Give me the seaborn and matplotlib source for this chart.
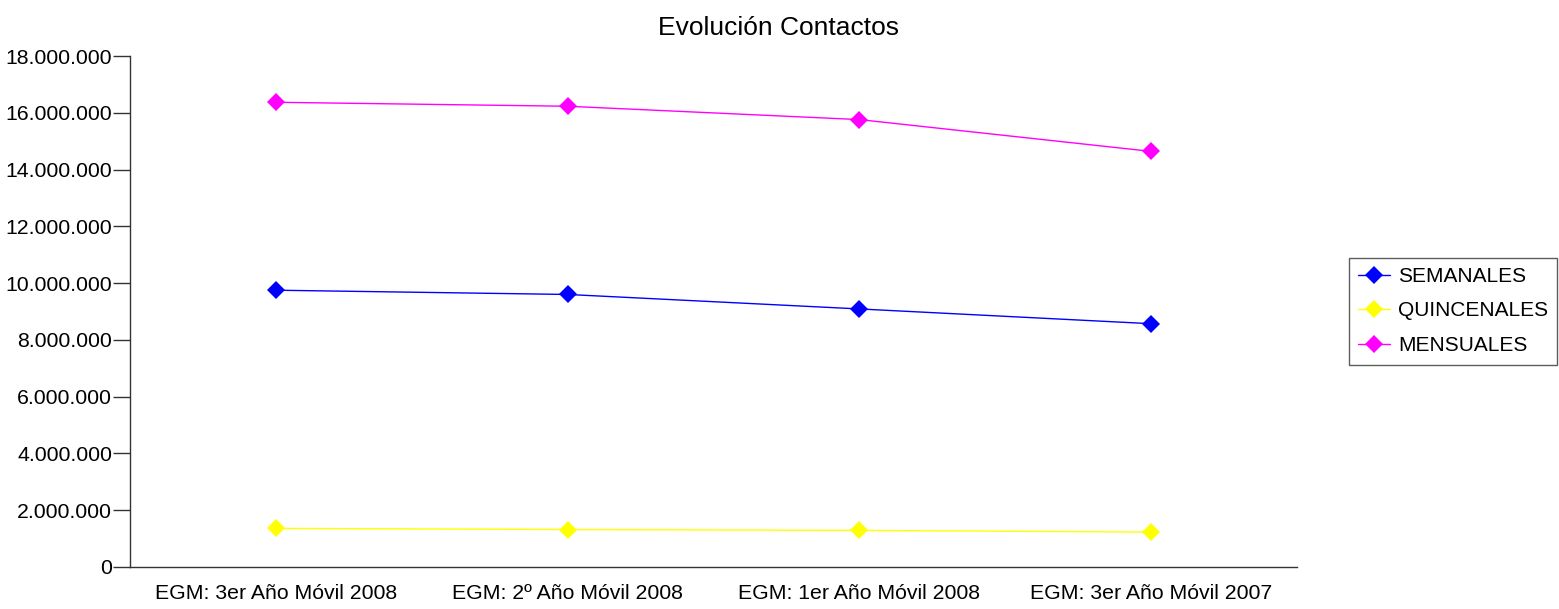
import matplotlib
matplotlib.use("Agg")
import matplotlib.pyplot as plt
import seaborn as sns
import pandas as pd
from matplotlib.ticker import FuncFormatter, FixedLocator

categories = ["EGM: 3er Año Móvil 2008", "EGM: 2º Año Móvil 2008",
              "EGM: 1er Año Móvil 2008", "EGM: 3er Año Móvil 2007"]
semanales = [9750000, 9600000, 9090000, 8570000]
quincenales = [1360000, 1320000, 1290000, 1230000]
mensuales = [16370000, 16230000, 15760000, 14640000]
series_names = ["SEMANALES", "QUINCENALES", "MENSUALES"]
colors = ["#0000FF", "#FFFF00", "#FF00FF"]

rows = []
for name, vals in zip(series_names, [semanales, quincenales, mensuales]):
    for i, v in enumerate(vals):
        rows.append({"pos": i, "value": v, "serie": name})
df = pd.DataFrame(rows)

sns.set_style("white")
plt.rcParams["font.family"] = ["Liberation Sans", "DejaVu Sans"]
plt.rcParams["text.color"] = "black"
plt.rcParams["xtick.color"] = "black"
plt.rcParams["ytick.color"] = "black"

fig = plt.figure(figsize=(15.59, 6.09), dpi=100)
ax = fig.add_axes([130 / 1559, 1 - 567 / 609, (1297 - 130) / 1559, (567 - 56) / 609])

sns.lineplot(data=df, x="pos", y="value", hue="serie", hue_order=series_names,
             palette=colors, marker="D", markersize=9, markeredgewidth=0,
             linewidth=1, ax=ax, legend=True, sort=False)

ax.set_xlim(-0.5, 3.5)
ax.set_ylim(0, 18000000)
ax.set_xlabel("")
ax.set_ylabel("")

ax.yaxis.set_major_locator(FixedLocator(list(range(0, 18000001, 2000000))))
ax.yaxis.set_major_formatter(FuncFormatter(lambda v, p: f"{int(v):,}".replace(",", ".")))

ax.xaxis.set_major_locator(FixedLocator([0, 1, 2, 3]))
ax.set_xticklabels(categories)
ax.xaxis.set_minor_locator(FixedLocator([-0.5, 0.5, 1.5, 2.5, 3.5]))
ax.tick_params(axis="x", which="major", length=0, pad=12, labelsize=15.3, labelcolor="black")
ax.tick_params(axis="x", which="minor", length=12, width=1, color="#333333", direction="out")
ax.tick_params(axis="y", which="major", length=12, width=1, color="#333333",
               direction="out", labelsize=15.3, pad=1, left=True, labelcolor="black")

for s in ["top", "right"]:
    ax.spines[s].set_visible(False)
for s in ["left", "bottom"]:
    ax.spines[s].set_color("#333333")
    ax.spines[s].set_linewidth(1)

ax.grid(False)
fig.text(778 / 1559, 1 - 28 / 609, "Evolución Contactos", fontsize=19,
         ha="center", va="center", color="black")

leg = ax.legend(loc="center left", bbox_to_anchor=(1349 / 1559, 1 - 311 / 609),
                bbox_transform=fig.transFigure, borderaxespad=0, frameon=True,
                fancybox=False, edgecolor="#333333", fontsize=15,
                handlelength=1.5, handletextpad=0.4, labelspacing=0.75,
                borderpad=0.45, title=None)
leg.get_frame().set_linewidth(1)
for t in leg.get_texts():
    t.set_color("black")

fig.savefig("out.png", dpi=100, facecolor="white")
